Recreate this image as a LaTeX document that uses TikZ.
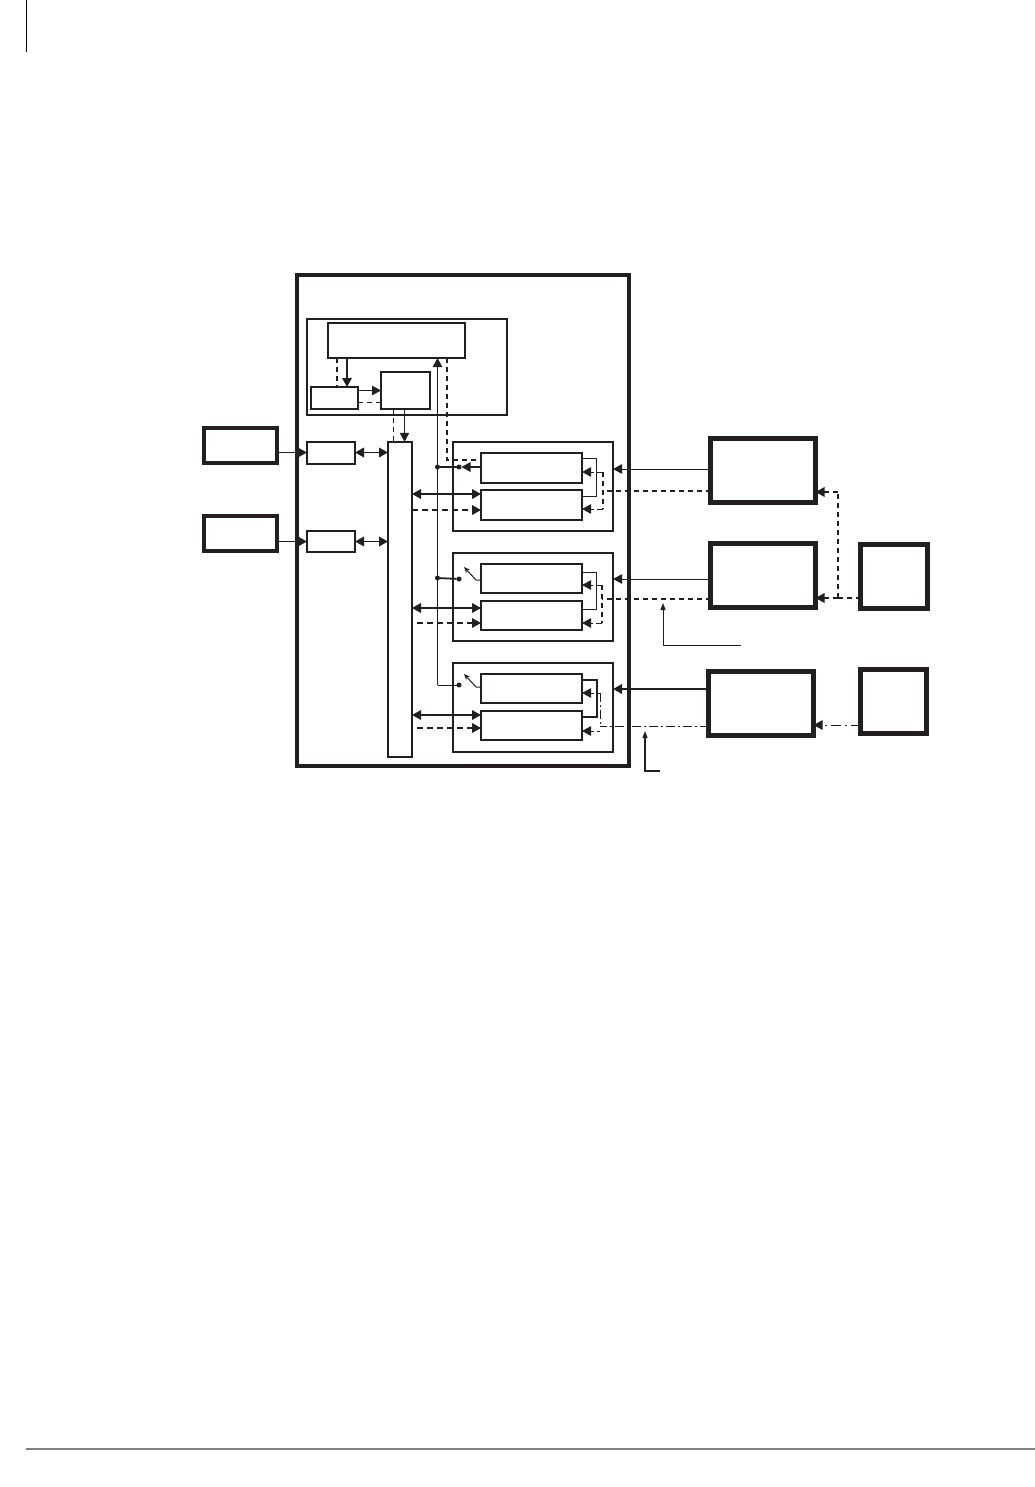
\documentclass[tikz,border=0pt]{standalone}
\usepackage{xcolor}
\usetikzlibrary{arrows.meta, positioning}
\definecolor{ink}{HTML}{231F20}

\begin{document}
\begin{tikzpicture}[x=1pt, y=-1pt, ink,
      every node/.style={inner sep=0pt, outer sep=0pt},
      dim/.style 2 args={minimum width=#1pt, minimum height=#2pt},
      outerbox/.style={draw=ink, line width=4pt},
      devbox/.style={draw=ink, line width=4.2pt},
      groupbox/.style={draw=ink, line width=2pt},
      unit/.style={draw=ink, line width=2pt},
      arr/.style={-{Triangle[length=9pt, width=9.5pt]}, line width=1pt},
      arrb/.style={-{Triangle[length=9pt, width=9.5pt]}, line width=1.8pt},
      dbl/.style={{Triangle[length=9pt, width=9.5pt]}-{Triangle[length=9pt, width=9.5pt]}, line width=1.8pt},
      dsh/.style={line width=1pt, dash pattern=on 5pt off 4pt},
      dshb/.style={line width=1.7pt, dash pattern=on 5pt off 4pt},
      dd/.style={line width=1pt, dash pattern=on 9pt off 3pt on 2pt off 3pt},
      dot/.style={circle, fill=ink, minimum size=5pt}]
    \useasboundingbox (0,0) rectangle (1035,1487);
    % page marks
    \coordinate (marktop) at (26.5,0);
    \coordinate (markend) at (26.5,52);
    \coordinate (ruleleft) at (26,1449);
    \coordinate (ruleright) at (1035,1449);
    \draw[black, line width=1.2pt] (marktop) -- (markend);
    \draw[gray, line width=1.2pt] (ruleleft) -- (ruleright);

    % enclosure and control block
    \node[outerbox, dim={332}{490}] (encl) at (462.5,520.5) {};
    \node[groupbox, dim={200}{96}] (ctrl) at (406.5,367) {};
    \node[unit, dim={137}{35}] (cpu) at (396.5,340.5) {};
    \node[unit, dim={47}{22}] (aux) at (334.5,398) {};
    \node[unit, dim={49}{37}] (dec) at (405.5,390.5) {};
    \node[unit, dim={24}{315.5}] (bus) at (400,599.5) {};

    % left side
    \node[outerbox, dim={73}{35}] (srca) at (240.5,445.5) {};
    \node[outerbox, dim={73}{35}] (srcb) at (240.5,533.5) {};
    \node[unit, dim={48}{22}] (porta) at (331,452.5) {};
    \node[unit, dim={48}{21}] (portb) at (331,541.5) {};

    % three channel groups
    \node[groupbox, dim={160}{89}] (grpa) at (533,486.5) {};
    \node[unit, dim={101}{30}] (upa) at (531.5,468) {};
    \node[unit, dim={101}{30}] (loa) at (531.5,505) {};
    \node[groupbox, dim={160}{88}] (grpb) at (533,597) {};
    \node[unit, dim={101}{29}] (upb) at (531.5,578.5) {};
    \node[unit, dim={101}{29}] (lob) at (531.5,615.5) {};
    \node[groupbox, dim={160}{89}] (grpc) at (533,707.5) {};
    \node[unit, dim={101}{29}] (upc) at (531.5,688.5) {};
    \node[unit, dim={101}{29}] (loc) at (531.5,725.5) {};

    % right side
    \node[devbox, dim={105}{64}] (deva) at (763,470.5) {};
    \node[devbox, dim={105}{64}] (devb) at (763,575.5) {};
    \node[devbox, dim={105}{64}] (devc) at (761,703.5) {};
    \node[devbox, dim={67}{64}] (supa) at (894,576.5) {};
    \node[devbox, dim={66}{64}] (supb) at (893.5,701.5) {};

    % junctions
    \node[dot] (ja) at (437.5,467) {};
    \node[dot] (sa) at (459,467) {};
    \node[dot] (jb) at (437.5,578) {};
    \node[dot] (sb) at (459,579) {};
    \node[dot] (sc) at (459,685) {};
    \coordinate (jc) at (437.5,685);
    \coordinate (tipb) at (464,567);
    \coordinate (kneeb) at (476,580);
    \coordinate (tipc) at (464,674);
    \coordinate (kneec) at (476,687);
    \coordinate (fbb) at (741,645);
    \coordinate (fbc) at (660,771);

    % control block connectors
    \draw[arrb] (cpu.south -| 347,0) -- (aux.north -| 347,0);
    \draw[dshb] (cpu.south -| 337,0) -- (aux.north -| 337,0);
    \draw[arr] (aux.east |- 0,390.5) -- (dec.west |- 0,390.5);
    \draw[dsh] (aux.east |- 0,402) -- (dec.west |- 0,402);
    \draw[arr] (dec.south -| 404.5,0) -- (bus.north -| 404.5,0);
    \draw[dsh] (dec.south -| 393.5,0) -- (bus.north -| 393.5,0);
    \draw[arr] (jc) -- (cpu.south -| jc);
    \draw[dshb, line width=1.3pt] (cpu.south -| 447,0) -- (447,460) -- (upa.west |- 0,460);

    % left side connectors
    \draw[arr] (srca.east |- porta.west) -- (porta.west);
    \draw[arrb] (srcb.east |- portb.west) -- (portb.west);
    \draw[dbl] (porta.east) -- (bus.west |- porta.east);
    \draw[dbl] (portb.east) -- (bus.west |- portb.east);

    % channel a
    \draw[line width=1.8pt] (ja) -- (sa);
    \draw[arrb, line width=1.4pt] (upa.west |- sa) -- (sa);
    \draw[dbl] (bus.east |- 0,494) -- (loa.west |- 0,494);
    \draw[arrb, dash pattern=on 6pt off 4pt] (bus.east |- 0,510) -- (loa.west |- 0,510);
    \draw[line width=1pt] (upa.east |- 0,458) -| (596,496) -- (loa.east |- 0,496);
    \draw[arr, dash pattern=on 6pt off 3pt] (603,472) -- (upa.east |- 0,472);
    \draw[arr, dash pattern=on 6pt off 3pt] (603,509) -- (loa.east |- 0,509);
    \draw[dsh, line width=1.2pt] (603,472) -- (603,509);
    \draw[dsh, line width=1.2pt] (deva.west |- 0,491) -- (603,491);
    \draw[arr] (deva.west |- 0,469) -- (grpa.east |- 0,469);

    % channel b
    \draw[line width=1.8pt] (jb) -- (sb);
    \draw[arr, -{Stealth[length=6pt, width=5pt]}] (upb.west |- kneeb) -- (kneeb) -- (tipb);
    \draw[dbl] (bus.east |- 0,608) -- (lob.west |- 0,608);
    \draw[arrb, dash pattern=on 6pt off 4pt] (417,623) -- (lob.west |- 0,623);
    \draw[line width=1pt] (upb.east |- 0,572) -| (596,609) -- (lob.east |- 0,609);
    \draw[arr, dash pattern=on 6pt off 3pt] (602,585) -- (upb.east |- 0,585);
    \draw[arr, dash pattern=on 6pt off 3pt] (602,623) -- (lob.east |- 0,623);
    \draw[dsh, line width=1.2pt] (602,585) -- (602,623);
    \draw[dsh, line width=1.3pt] (devb.west |- 0,599) -- (602,599);
    \draw[arr] (devb.west |- 0,579) -- (grpb.east |- 0,579);
    \draw[-{Triangle[length=7pt, width=5pt]}, line width=0.9pt] (fbb) -| (663,603);

    % channel c
    \draw[line width=1pt] (jc) -- (sc);
    \draw[arr, -{Stealth[length=6pt, width=5pt]}] (upc.west |- kneec) -- (kneec) -- (tipc);
    \draw[dbl] (bus.east |- 0,715) -- (loc.west |- 0,715);
    \draw[arrb, dash pattern=on 6pt off 4pt] (417,728) -- (loc.west |- 0,728);
    \draw[line width=1.4pt] (upc.east |- 0,680) -| (597,717) -- (loc.east |- 0,717);
    \draw[arr, dash pattern=on 3pt off 3pt] (600,693) -- (upc.east |- 0,693);
    \draw[arr, dash pattern=on 3pt off 3pt] (600,731) -- (loc.east |- 0,731);
    \draw[dd] (600,693) -- (600,726);
    \draw[dd] (devc.west |- 0,726) -- (600,726);
    \draw[arrb] (devc.west |- 0,689) -- (grpc.east |- 0,689);
    \draw[-{Triangle[length=7pt, width=5pt]}, line width=1.2pt] (fbc) -| (645,731);

    % supply connectors
    \draw[dshb] (supa.west |- 0,598) -- (838,598);
    \draw[arr, dash pattern=on 5pt off 4pt, line width=1.7pt] (838,598) -- (devb.east |- 0,598);
    \draw[dsh, line width=1.3pt] (838,598) -- (838,492);
    \draw[arr, dash pattern=on 5pt off 4pt, line width=1.3pt] (838,492) -- (deva.east |- 0,492);
    \draw[arr, dash pattern=on 10pt off 4pt on 2pt off 4pt] (supb.west |- 0,725) -- (devc.east |- 0,725);
  \end{tikzpicture}
\end{document}
